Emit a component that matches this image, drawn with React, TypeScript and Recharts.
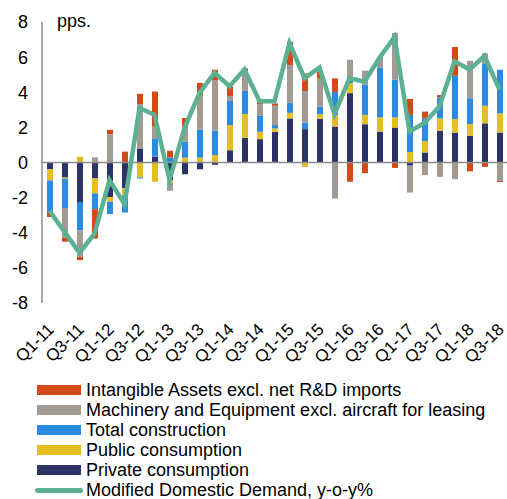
import React from 'react';
import {
  ComposedChart,
  Bar,
  Line,
  XAxis,
  YAxis,
  ReferenceLine,
} from 'recharts';

const quarters = [
  'Q1-11', 'Q2-11', 'Q3-11', 'Q4-11',
  'Q1-12', 'Q2-12', 'Q3-12', 'Q4-12',
  'Q1-13', 'Q2-13', 'Q3-13', 'Q4-13',
  'Q1-14', 'Q2-14', 'Q3-14', 'Q4-14',
  'Q1-15', 'Q2-15', 'Q3-15', 'Q4-15',
  'Q1-16', 'Q2-16', 'Q3-16', 'Q4-16',
  'Q1-17', 'Q2-17', 'Q3-17', 'Q4-17',
  'Q1-18', 'Q2-18', 'Q3-18',
];

const privateCons = [
  -0.38, -0.86, -2.25, -0.9, -1.97, -1.47, 0.77, 0.33, -1.0, -0.67, -0.39,
  -0.13, 0.7, 1.41, 1.33, 1.75, 2.51, 1.9, 2.48, 2.05, 3.95, 2.18, 1.76,
  1.99, -0.18, 0.57, 1.81, 1.7, 1.52, 2.23, 1.71,
];
const publicCons = [
  -0.64, -0.06, 0.33, -0.86, -0.26, -0.4, -0.85, -1.1, -0.13, 0.27, 0.27,
  0.42, 1.43, 1.35, 0.42, 0.19, 0.32, -0.25, 0.27, 0.65, 0.57, 0.53, 0.81,
  0.58, 0.59, 0.65, 0.7, 0.78, 0.67, 1.0, 1.09,
];
const construction = [
  -1.79, -1.67, -1.62, -0.9, -0.71, -0.98, -0.06, 1.05, 0.28, 0.92, 1.59,
  1.39, 1.37, 1.31, 0.91, 0.19, 0.57, 0.38, 0.44, 1.31, 0.38, 1.73, 2.85,
  2.16, 2.12, 1.3, 1.2, 2.46, 1.47, 2.42, 2.48,
];
const machinery = [
  0, -1.69, -1.5, 0.29, 1.61, 0, 2.56, 0.7, -0.48, 0.88, 2.0,
  2.86, 0.29, 1.1, 0.65, 1.1, 2.15, 1.79, 1.58, -2.05, 0.95, 0.79, 0.58,
  2.65, -1.53, -0.72, -0.82, -0.95, 2.13, 0.57, -1.05,
];
const intangible = [
  -0.29, -0.23, -0.19, -1.67, 0.25, 0.62, 0.58, 1.96, 0.39, 0.46, 0.67,
  0.61, 0.53, 0.19, 0.11, 0.13, 1.33, 1.0, 0.42, 0.78, -1.1, -0.61, 0,
  -0.31, 0.91, 0.38, 0.13, 1.64, -0.5, -0.25, -0.06,
];
const mdd = [
  -2.75, -3.95, -5.15, -4.05, -1.0, -2.37, 3.1, 2.72, -1.0, 1.96, 3.96,
  5.1, 4.34, 5.3, 3.49, 3.49, 6.8, 4.8, 5.4, 2.75, 4.8, 4.6, 5.96,
  7.15, 1.77, 2.25, 3.2, 5.77, 5.3, 6.06, 4.15,
];
const yTicks = [-8, -6, -4, -2, 0, 2, 4, 6, 8];

const data = quarters.map((q, i) => ({
  q,
  privateCons: privateCons[i],
  publicCons: publicCons[i],
  construction: construction[i],
  machinery: machinery[i],
  intangible: intangible[i],
  mdd: mdd[i],
}));

const FONT = '"Liberation Sans", Arial, sans-serif';
const C = {
  intangible: '#D24A17',
  machinery: '#A39A92',
  construction: '#2A8BE0',
  publicCons: '#E5BE22',
  privateCons: '#2C3366',
  mdd: '#5DB193',
};

const legendItems = [
  { label: 'Intangible Assets excl. net R&D imports', color: C.intangible },
  { label: 'Machinery and Equipment excl. aircraft for leasing', color: C.machinery },
  { label: 'Total construction', color: C.construction },
  { label: 'Public consumption', color: C.publicCons },
  { label: 'Private consumption', color: C.privateCons },
  { label: 'Modified Domestic Demand, y-o-y%', color: C.mdd, line: true },
];

const XTick = (props: any) => {
  const { x, y, payload } = props;
  const tx = x - 3;
  const ty = y + 19;
  return (
    <text
      x={tx}
      y={ty}
      dy={12}
      textAnchor="end"
      transform={`rotate(-45 ${tx} ${ty})`}
      fontSize={17}
      fontFamily={FONT}
      fill="#000"
    >
      {payload.value}
    </text>
  );
};

export default function App() {
  return (
    <div style={{ position: 'absolute', left: 0, top: 0, width: 507, height: 499, fontFamily: FONT }}>
      <ComposedChart
        width={507}
        height={373}
        data={data}
        stackOffset="sign"
        margin={{ top: 22, right: 0, left: 0, bottom: 0 }}
        barSize={6}
      >
        <XAxis
          dataKey="q"
          axisLine={false}
          tickLine={false}
          tickSize={0}
          tickMargin={0}
          interval={1}
          height={70}
          tick={<XTick />}
        />
        <YAxis
          domain={[-8, 8]}
          ticks={yTicks}
          width={42}
          tickLine={false}
          tickSize={0}
          tickMargin={14}
          axisLine={{ stroke: '#8c8c8c', strokeWidth: 1.5 }}
          tick={{ fontSize: 18, fill: '#000', fontFamily: FONT }}
        />
        <ReferenceLine y={0} stroke="#8c8c8c" strokeWidth={1.5} />
        <Bar dataKey="privateCons" stackId="a" fill={C.privateCons} isAnimationActive={false} />
        <Bar dataKey="publicCons" stackId="a" fill={C.publicCons} isAnimationActive={false} />
        <Bar dataKey="construction" stackId="a" fill={C.construction} isAnimationActive={false} />
        <Bar dataKey="machinery" stackId="a" fill={C.machinery} isAnimationActive={false} />
        <Bar dataKey="intangible" stackId="a" fill={C.intangible} isAnimationActive={false} />
        <Line
          dataKey="mdd"
          type="linear"
          stroke={C.mdd}
          strokeWidth={4.5}
          dot={false}
          isAnimationActive={false}
        />
      </ComposedChart>
      <div style={{ position: 'absolute', left: 57, top: 11, fontSize: 18, color: '#000' }}>pps.</div>
      <div style={{ position: 'absolute', left: 35, top: 380 }}>
        {legendItems.map((item) => (
          <div key={item.label} style={{ display: 'flex', alignItems: 'center', height: 20 }}>
            {item.line ? (
              <div style={{ width: 48, height: 5, borderRadius: 3, background: item.color }} />
            ) : (
              <div style={{ width: 44, height: 10, marginLeft: 2, marginRight: 2, background: item.color }} />
            )}
            <span style={{ marginLeft: 3, fontSize: 18, color: '#000', whiteSpace: 'nowrap', lineHeight: '20px' }}>
              {item.label}
            </span>
          </div>
        ))}
      </div>
    </div>
  );
}
